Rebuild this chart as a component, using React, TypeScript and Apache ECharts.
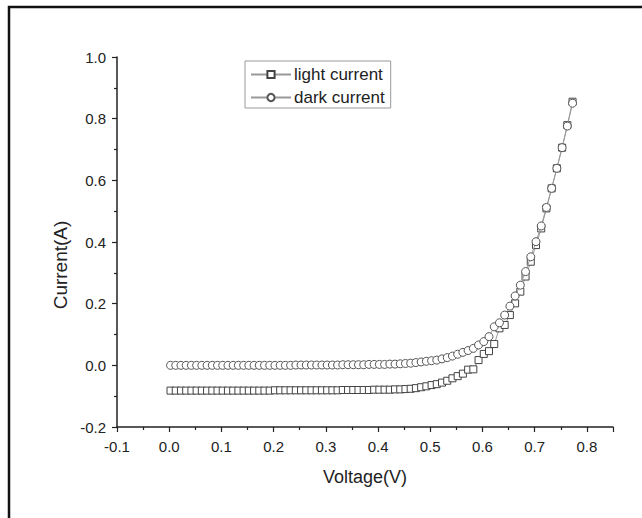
import React, { useEffect, useRef } from "react";
import * as echarts from "echarts";

const voltage = [
  0.0025, 0.0125, 0.0225, 0.0325, 0.0425, 0.0525, 0.0625, 0.0725, 0.0825, 0.0925,
  0.1025, 0.1125, 0.1225, 0.1325, 0.1425, 0.1525, 0.1625, 0.1725, 0.1825, 0.1925,
  0.2025, 0.2125, 0.2225, 0.2325, 0.2425, 0.2525, 0.2625, 0.2725, 0.2825, 0.2925,
  0.3025, 0.3125, 0.3225, 0.3325, 0.3425, 0.3525, 0.3625, 0.3725, 0.3825, 0.3925,
  0.4025, 0.4125, 0.4225, 0.4325, 0.4425, 0.4525, 0.4625, 0.4725, 0.4825, 0.4925,
  0.5025, 0.5125, 0.5225, 0.5325, 0.5425, 0.5525, 0.5625, 0.5725, 0.5825, 0.5925,
  0.6025, 0.6125, 0.6225, 0.6325, 0.6425, 0.6525, 0.6625, 0.6725, 0.6825, 0.6925,
  0.7025, 0.7125, 0.7225, 0.7325, 0.7425, 0.7525, 0.7625, 0.7725,
];

const lightCurrent = [
  -0.082, -0.082, -0.082, -0.082, -0.082, -0.082, -0.082, -0.082, -0.082, -0.082,
  -0.082, -0.082, -0.082, -0.082, -0.082, -0.082, -0.082, -0.082, -0.082, -0.082,
  -0.081, -0.081, -0.081, -0.081, -0.081, -0.081, -0.081, -0.081, -0.081, -0.081,
  -0.081, -0.081, -0.081, -0.080, -0.080, -0.080, -0.080, -0.080, -0.080, -0.079,
  -0.079, -0.079, -0.079, -0.078, -0.078, -0.077, -0.076, -0.074, -0.071, -0.068,
  -0.064, -0.061, -0.056, -0.050, -0.042, -0.035, -0.027, -0.014, -0.013, 0.017,
  0.037, 0.046, 0.069, 0.120, 0.131, 0.163, 0.201, 0.239, 0.288, 0.336,
  0.390, 0.444, 0.509, 0.574, 0.639, 0.706, 0.779, 0.855,
];

const darkCurrent = [
  0.000, 0.000, 0.000, 0.000, 0.000, 0.000, 0.000, 0.000, 0.000, 0.000,
  0.000, 0.000, 0.000, 0.000, 0.000, 0.000, 0.000, 0.000, 0.000, 0.000,
  0.000, 0.000, 0.000, 0.000, 0.001, 0.001, 0.001, 0.001, 0.001, 0.001,
  0.001, 0.001, 0.001, 0.002, 0.002, 0.002, 0.002, 0.002, 0.003, 0.003,
  0.003, 0.003, 0.004, 0.004, 0.005, 0.006, 0.007, 0.009, 0.011, 0.013,
  0.015, 0.017, 0.021, 0.025, 0.030, 0.036, 0.042, 0.048, 0.055, 0.066,
  0.077, 0.093, 0.125, 0.138, 0.163, 0.192, 0.225, 0.260, 0.304, 0.352,
  0.401, 0.452, 0.512, 0.574, 0.639, 0.706, 0.776, 0.850,
];

const seriesNames = ["light current", "dark current"];

export default function App() {
  const ref = useRef<HTMLDivElement>(null);

  useEffect(() => {
    if (!ref.current) return;
    const chart = echarts.init(ref.current, null, { renderer: "svg" });
    const font = "Arial, 'Liberation Sans', sans-serif";
    const axisCommon = {
      axisLine: { show: true, onZero: false, lineStyle: { color: "#222", width: 1.5 } },
      axisTick: { show: true, inside: false, length: 5, lineStyle: { color: "#222", width: 1.2 } },
      minorTick: { show: true, splitNumber: 2, length: 3, lineStyle: { color: "#222", width: 1.2 } },
      splitLine: { show: false },
      minorSplitLine: { show: false },
    };
    chart.setOption({
      animation: false,
      backgroundColor: "#fff",
      grid: { left: 117, right: 29, top: 57, bottom: 91, containLabel: false },
      xAxis: {
        type: "value",
        min: -0.1,
        max: 0.85,
        interval: 0.1,
        ...axisCommon,
        axisLabel: {
          margin: 12,
          fontSize: 15,
          color: "#222",
          fontFamily: font,
          showMaxLabel: false,
          formatter: (v: number) => (Math.abs(v - 0.85) < 1e-6 ? "" : v.toFixed(1)),
        },
        name: "Voltage(V)",
        nameLocation: "middle",
        nameGap: 41,
        nameTextStyle: { fontSize: 18, color: "#222", fontFamily: font },
      },
      yAxis: {
        type: "value",
        min: -0.2,
        max: 1.0,
        interval: 0.2,
        ...axisCommon,
        axisLabel: {
          margin: 11,
          fontSize: 15,
          color: "#222",
          fontFamily: font,
          formatter: (v: number) => v.toFixed(1),
        },
      },
      legend: {
        orient: "vertical",
        left: 245,
        top: 61,
        data: seriesNames,
        backgroundColor: "#fff",
        borderColor: "#999",
        borderWidth: 1,
        borderRadius: 0,
        padding: [5, 6, 2, 5],
        itemWidth: 40,
        itemHeight: 9,
        itemGap: 6,
        textStyle: { fontSize: 17, color: "#222", fontFamily: font, padding: [0, 0, 0, -2] },
      },
      graphic: [
        {
          type: "rect",
          shape: { x: 9, y: 7, width: 700, height: 600 },
          style: { fill: "none", stroke: "#111", lineWidth: 2.5 },
          silent: true,
        },
        {
          type: "text",
          x: 60,
          y: 265,
          rotation: Math.PI / 2,
          style: {
            text: "Current(A)",
            fontSize: 19,
            fontFamily: font,
            fill: "#222",
            align: "center",
            verticalAlign: "middle",
          },
        },
      ],
      series: [
        {
          name: seriesNames[0],
          type: "line",
          data: voltage.map((v, i) => [v, lightCurrent[i]]),
          symbol: "rect",
          symbolSize: 7,
          showAllSymbol: true,
          lineStyle: { color: "#999", width: 1 },
          itemStyle: { color: "#fff", borderColor: "#444", borderWidth: 1 },
          z: 2,
        },
        {
          name: seriesNames[1],
          type: "line",
          data: voltage.map((v, i) => [v, darkCurrent[i]]),
          symbol: "circle",
          symbolSize: 8,
          showAllSymbol: true,
          lineStyle: { color: "#999", width: 1 },
          itemStyle: { color: "#fff", borderColor: "#555", borderWidth: 1 },
          z: 3,
        },
      ],
    });
    return () => chart.dispose();
  }, []);

  return (
    <div
      ref={ref}
      style={{ position: "fixed", left: 0, top: 0, width: 642, height: 518, background: "#fff" }}
    />
  );
}
